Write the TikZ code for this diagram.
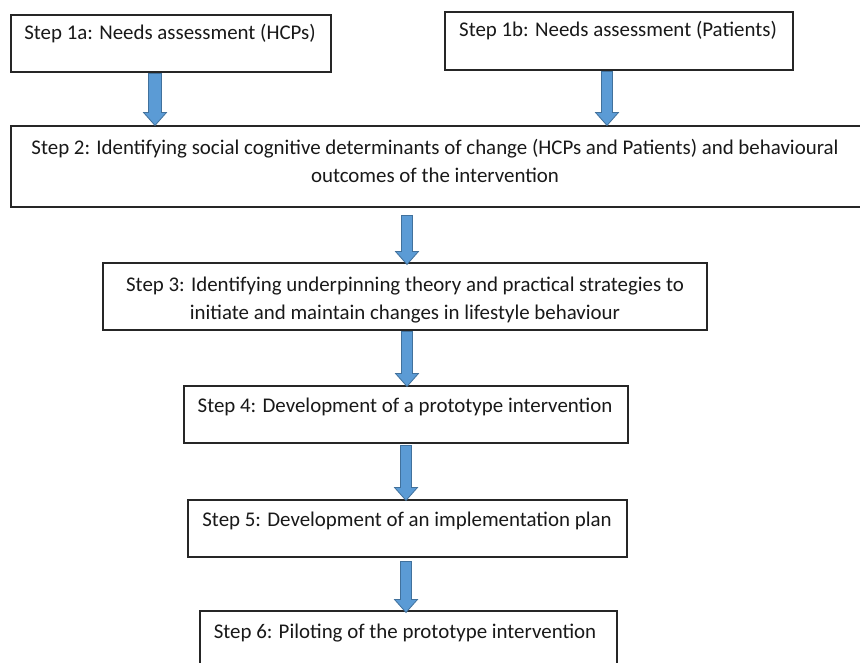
\documentclass[tikz,border=0pt]{standalone}
\usepackage{fontspec}
\setmainfont{Carlito}
\usetikzlibrary{calc}
\definecolor{arrfill}{HTML}{5B9BD5}
\definecolor{arrline}{HTML}{41719C}
\definecolor{boxline}{HTML}{262626}
\tikzset{
  box/.style={draw=boxline, line width=1.1pt, inner sep=0pt, fill=white},
  txt/.style={inner sep=0pt, anchor=base, align=center, text=black!90,
    font=\fontsize{20.9pt}{27.5pt}\selectfont},
  barrow/.style={fill=arrfill, draw=arrline, line width=0.8pt, line join=miter}
}
\newcommand{\blockarr}[3]{%
  \draw[barrow] let \p1=#1, \p2=#2 in
    (\x1-#3,\y1) -- (\x1-#3,\y2+13pt) -- (\x1-11.5pt,\y2+13pt) -- (\x1,\y2)
    -- (\x1+11.5pt,\y2+13pt) -- (\x1+#3,\y2+13pt) -- (\x1+#3,\y1) -- cycle;}
\begin{document}
\begin{tikzpicture}[x=1pt,y=-1pt]
\useasboundingbox (0,0) rectangle (860,662);
\clip (0,0) rectangle (860,662);
\fill[white] (0,0) rectangle (860,662);
% boxes
\node[box, minimum width=320pt, minimum height=57pt] (b1a) at (171,43.5) {};
\node[box, minimum width=348pt, minimum height=58pt] (b1b) at (619,41) {};
\node[box, minimum width=864pt, minimum height=81pt] (b2) at (443,166.5) {};
\node[box, minimum width=604pt, minimum height=67pt] (b3) at (405,296.5) {};
\node[box, minimum width=444pt, minimum height=57pt] (b4) at (406,414.5) {};
\node[box, minimum width=439pt, minimum height=57pt] (b5) at (407.5,528.5) {};
\node[box, minimum width=417pt, minimum height=69pt] (b6) at (408.5,645.5) {};
% texts
\node[txt] (t1a) at (170,39) {Step 1a: Needs assessment (HCPs)};
\node[txt] (t1b) at (618,36) {Step 1b: Needs assessment (Patients)};
\node[txt] (t2) at (435,182) {Step 2: Identifying social cognitive determinants of change (HCPs and Patients) and behavioural\\outcomes of the intervention};
\node[txt] (t3) at (405,319) {Step 3: Identifying underpinning theory and practical strategies to\\initiate and maintain changes in lifestyle behaviour};
\node[txt] (t4) at (405,412) {Step 4: Development of a prototype intervention};
\node[txt] (t5) at (407,526) {Step 5: Development of an implementation plan};
\node[txt] (t6) at (405,638) {Step 6: Piloting of the prototype intervention};
% arrows
\blockarr{($(b1a.south)+(-16,1)$)}{(b2.north)}{6.5pt}
\blockarr{($(b1b.south)+(-12,1)$)}{(b2.north)}{5.5pt}
\blockarr{($(b2.south)+(-36,8)$)}{($(b3.north)+(0,2)$)}{5.5pt}
\blockarr{($(b3.south)+(2,1)$)}{($(b4.north)+(0,1)$)}{5.5pt}
\blockarr{($(b4.south)+(0,2)$)}{($(b5.north)+(0,1)$)}{5.5pt}
\blockarr{($(b5.south)+(-1.5,4)$)}{($(b6.north)+(0,2)$)}{5.5pt}
\end{tikzpicture}
\end{document}
